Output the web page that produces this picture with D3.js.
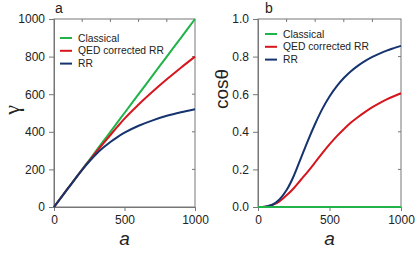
<!DOCTYPE html>
<html lang="en">
<head>
<meta charset="UTF-8">
<title>gamma and cos theta vs a</title>
<style>
  body { margin: 0; background: #fff; }
  text { font-family: Arial, "Liberation Sans", sans-serif; fill: #222; }
  .tick text { font-size: 12px; }
  .frame { fill: none; stroke: #777; stroke-width: 1; }
  .axis path, .axis line { stroke: #777; }
</style>
</head>
<body>
<div id="chart"></div>
<script src="https://cdn.jsdelivr.net/npm/d3@7"></script>
<script>
// ---- data ----
var aGamma = [0, 100, 200, 250, 300, 350, 400, 450, 500, 600, 700, 800, 900, 1000];
var gammaClassical = [0, 100, 200, 250, 300, 350, 400, 450, 500, 600, 700, 800, 900, 1000];
var gammaQED = [0, 100, 199, 246, 293, 338, 383, 427, 470, 545, 614, 679, 741, 800];
var gammaRR = [0, 100, 198, 242, 282, 316, 346, 372, 395, 432, 461, 485, 504, 520];

var aCos = [0, 50, 100, 150, 200, 250, 300, 350, 400, 450, 500, 550, 600, 650, 700, 750, 800, 850, 900, 950, 1000];
var cosClassical = [0, 0, 0, 0, 0, 0, 0, 0, 0, 0, 0, 0, 0, 0, 0, 0, 0, 0, 0, 0, 0];
var cosQED = [0, 0.002, 0.01, 0.03, 0.062, 0.10, 0.145, 0.19, 0.238, 0.287, 0.333, 0.376, 0.414, 0.449, 0.479, 0.506, 0.531, 0.553, 0.572, 0.589, 0.605];
var cosRR = [0, 0.002, 0.012, 0.04, 0.09, 0.165, 0.26, 0.355, 0.443, 0.522, 0.588, 0.642, 0.686, 0.722, 0.752, 0.777, 0.798, 0.816, 0.832, 0.845, 0.857];

var seriesNames = ["Classical", "QED corrected RR", "RR"];
var seriesColors = ["#1fb34a", "#d7151d", "#15336e"];

var xTicks = [0, 500, 1000];
var xMinorTicks = [200, 400, 600, 800];
var gammaTicks = [0, 200, 400, 600, 800, 1000];
var cosTicks = [0, 0.2, 0.4, 0.6, 0.8, 1.0];

var W = 416, H = 255;
var svg = d3.select("#chart").append("svg")
    .attr("width", W)
    .attr("height", H);

function panel(opts) {
    var x = d3.scaleLinear().domain([0, 1000]).range([opts.left, opts.right]);
    var y = d3.scaleLinear().domain(opts.ydomain).range([207, 19]);
    var g = svg.append("g");

    // left axis (outward ticks)
    g.append("g")
        .attr("class", "axis")
        .attr("transform", "translate(" + opts.left + ",0)")
        .call(d3.axisLeft(y).tickValues(opts.yticks).tickFormat(opts.yfmt).tickSizeOuter(0).tickSize(5).tickPadding(4));

    // bottom axis (outward ticks)
    g.append("g")
        .attr("class", "axis")
        .attr("transform", "translate(0,207)")
        .call(d3.axisBottom(x).tickValues(xTicks).tickFormat(d3.format("d")).tickSizeOuter(0).tickSize(4).tickPadding(4));

    // frame
    g.append("rect").attr("class", "frame")
        .attr("x", opts.left).attr("y", 19)
        .attr("width", opts.right - opts.left).attr("height", 188);

    // inner ticks top and right
    g.selectAll(".ttick").data(xMinorTicks).enter().append("line")
        .attr("x1", function(d) { return x(d); }).attr("x2", function(d) { return x(d); })
        .attr("y1", 19).attr("y2", 22).attr("stroke", "#777");
    g.selectAll(".rtick").data(opts.yticks.slice(1, -1)).enter().append("line")
        .attr("x1", opts.right).attr("x2", opts.right - 3)
        .attr("y1", function(d) { return y(d); }).attr("y2", function(d) { return y(d); })
        .attr("stroke", "#777");

    g.selectAll(".axis text").style("font-size", "12px").style("fill", "#222");

    // lines
    var line = d3.line()
        .x(function(d) { return x(d[0]); })
        .y(function(d) { return y(d[1]); })
        .curve(d3.curveMonotoneX);
    opts.series.forEach(function(s, i) {
        var pts = opts.xs.map(function(a, j) { return [a, s[j]]; });
        g.append("path")
            .attr("d", line(pts))
            .attr("fill", "none")
            .attr("stroke", seriesColors[i])
            .attr("stroke-width", 2);
    });
    // draw order: classical on top in right panel
    if (opts.classicalTop) {
        var pts0 = opts.xs.map(function(a, j) { return [a, opts.series[0][j]]; });
        g.append("path").attr("d", line(pts0)).attr("fill", "none")
            .attr("stroke", seriesColors[0]).attr("stroke-width", 2);
    }

    // legend
    seriesNames.forEach(function(name, i) {
        var ly = opts.legY + i * 12.8;
        g.append("line")
            .attr("x1", opts.legX).attr("x2", opts.legX + 12)
            .attr("y1", ly).attr("y2", ly)
            .attr("stroke", seriesColors[i]).attr("stroke-width", 2);
        g.append("text")
            .attr("x", opts.legX + 18).attr("y", ly + 3.6)
            .style("font-size", "10.3px")
            .text(name);
    });

    // x title
    g.append("text")
        .attr("x", x(500)).attr("y", 245)
        .attr("text-anchor", "middle")
        .style("font-size", "19px").style("font-style", "italic")
        .text("a");

    // panel label
    g.append("text")
        .attr("x", opts.labX).attr("y", 13)
        .style("font-size", "14px")
        .text(opts.label);

    // y title
    var yt = g.append("text")
        .attr("transform", "translate(" + opts.ytX + "," + opts.ytY + ") rotate(-90)")
        .attr("text-anchor", "middle")
        .style("font-size", opts.ytSize)
        .text(opts.ytitle);
    if (opts.ytFont) yt.style("font-family", opts.ytFont);
}

panel({
    left: 54, right: 195, ydomain: [0, 1000], yticks: gammaTicks, yfmt: d3.format("d"),
    xs: aGamma, series: [gammaClassical, gammaQED, gammaRR],
    legX: 60, legY: 38, label: "a", labX: 55, ytitle: "γ", ytX: 19, ytY: 110,
    ytSize: "22px", ytFont: "'Liberation Serif', serif"
});

panel({
    left: 258, right: 401, ydomain: [0, 1], yticks: cosTicks, yfmt: d3.format(".1f"),
    xs: aCos, series: [cosClassical, cosQED, cosRR], classicalTop: true,
    legX: 265, legY: 34, label: "b", labX: 265, ytitle: "cosθ", ytX: 228, ytY: 89,
    ytSize: "19px"
});
</script>
</body>
</html>
